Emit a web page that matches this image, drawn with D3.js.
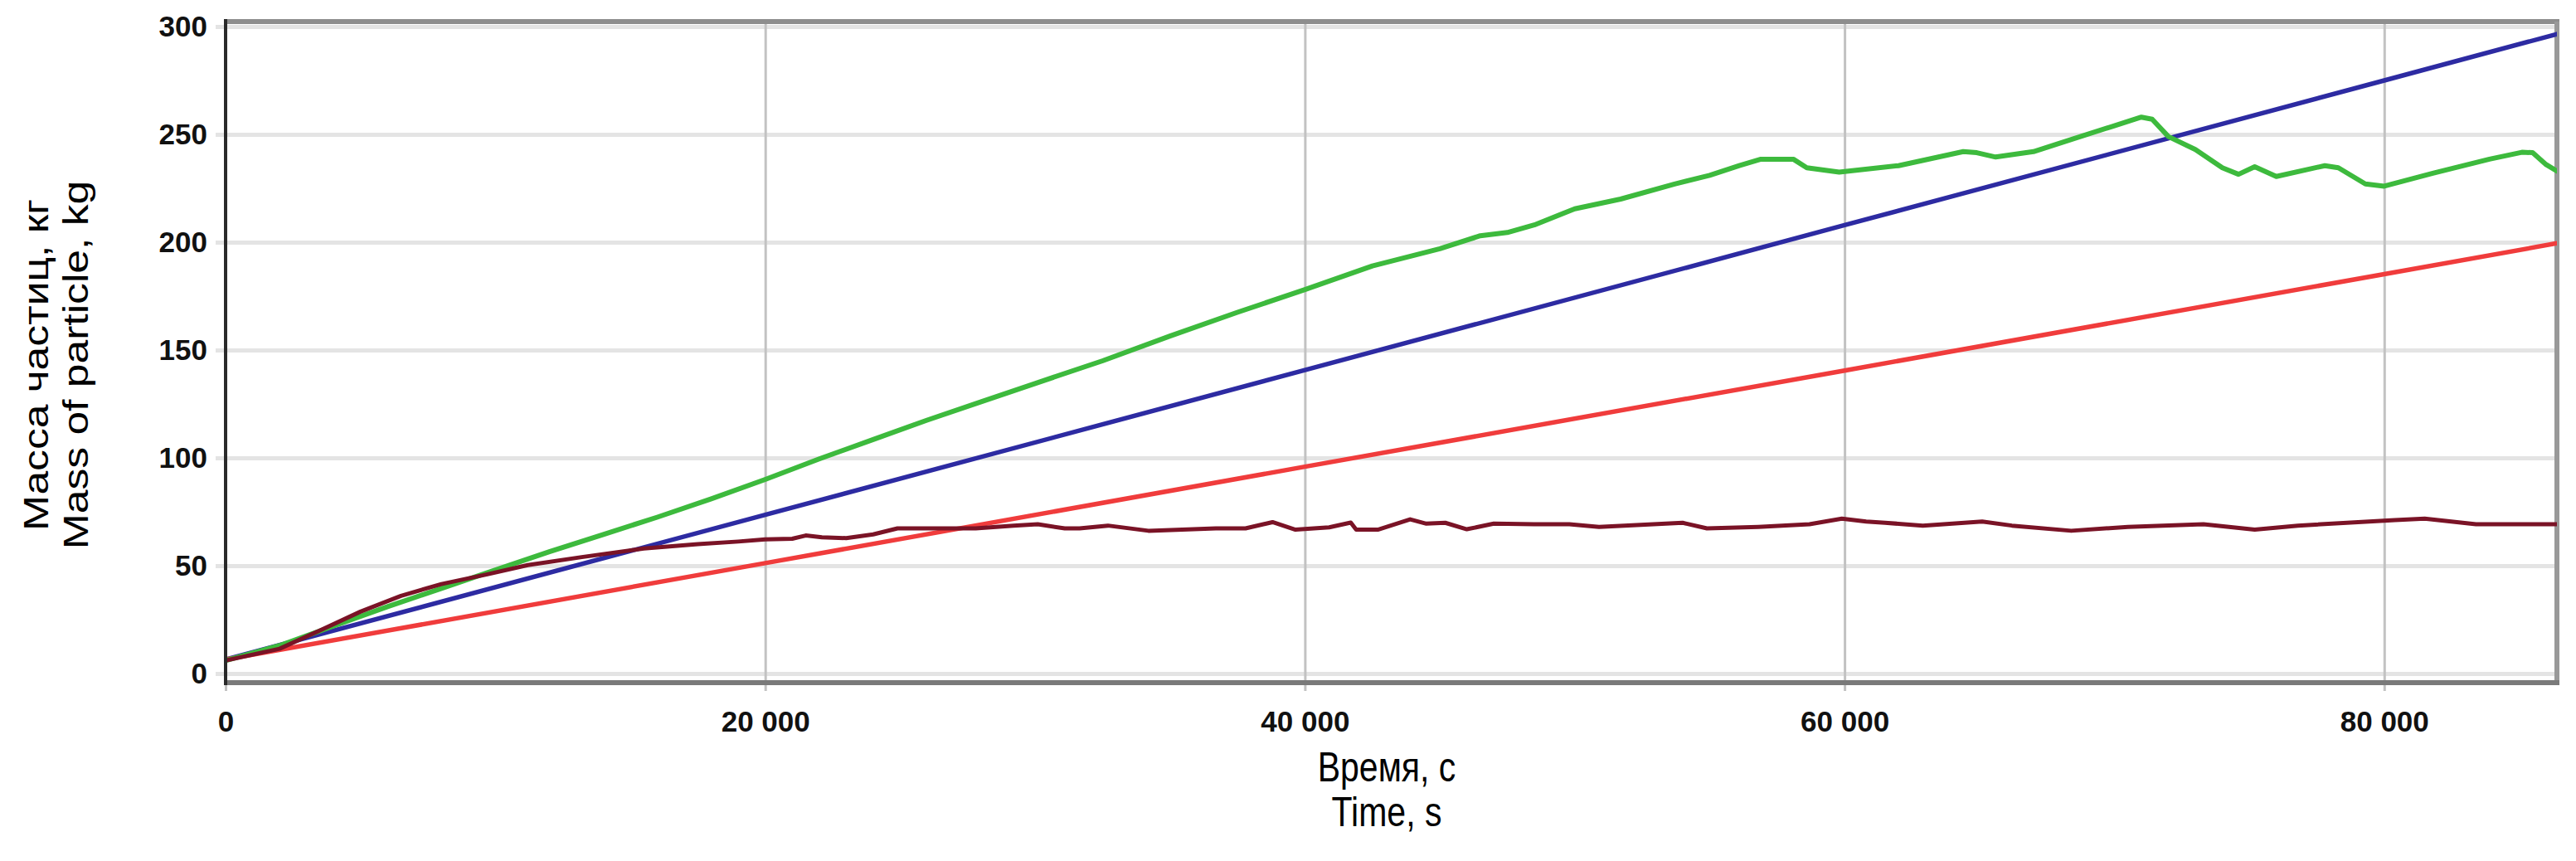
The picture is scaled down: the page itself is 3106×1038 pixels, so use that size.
<!DOCTYPE html>
<html>
<head>
<meta charset="utf-8">
<script src="https://cdn.jsdelivr.net/npm/d3@7"></script>
<style>
  html, body { margin: 0; padding: 0; background: #ffffff; }
  svg { display: block; }
</style>
</head>
<body>
<svg id="chart" width="3106" height="1038"></svg>
<script>
// ---------------- DATA ----------------
const yTicks = [0, 50, 100, 150, 200, 250, 300];
const xTicks = [0, 20000, 40000, 60000, 80000];
const xTickLabels = ["0", "20 000", "40 000", "60 000", "80 000"];

const xTitle = ["Время, с", "Time, s"];
const yTitle = ["Масса частиц, кг", "Mass of particle, kg"];

// blue series (time s, mass kg)
const blueT = [0, 20000, 40000, 60000, 80000, 86400];
const blueV = [6.5, 73.6, 140.7, 207.9, 275.0, 296.5];

// red series
const redT = [0, 20000, 40000, 60000, 80000, 86400];
const redV = [6.5, 51.2, 95.9, 140.5, 185.2, 199.5];

// green series
const greenT = [0, 2000, 4000, 6000, 8000, 10000, 12000, 14000, 16000, 18000, 20000,
  22000, 24000, 26000, 28000, 30000, 32500, 35000, 37500, 40000, 42500, 45000,
  46500, 47500, 48500, 50000, 51700, 53700, 55000, 56100, 56900, 58100, 58600,
  59800, 62000, 64400, 64900, 65600, 67000, 68500, 70000, 71000, 71400, 72000,
  73000, 74000, 74600, 75200, 76000, 77800, 78300, 79300, 80000, 81800, 83900,
  85100, 85500, 86000, 86400];
const greenV = [6, 13, 22, 31, 39.5, 48, 56.5, 64.5, 72.5, 81, 90,
  99.5, 108.5, 117.5, 126, 134.5, 145, 156.5, 167.5, 178, 189, 197,
  203, 204.5, 208, 215.5, 220, 227, 231, 235.5, 238.5, 238.5, 234.5,
  232.5, 235.5, 242, 241.5, 239.5, 242, 248, 254, 258, 257, 249,
  243, 234.5, 231.5, 235, 230.5, 235.5, 234.5, 227, 226, 232, 238.5,
  241.7, 241.5, 236, 233];

// dark red series
const maroonT = [0, 2000, 3500, 5000, 6500, 8000, 9700, 11200, 13200, 15500, 17500,
  19000, 20000, 21000, 21500, 22100, 23000, 24000, 24900, 26400, 27800, 29200,
  30100, 31100, 31650, 32700, 34200, 36700, 37800, 38800, 39650, 40900, 41700,
  41900, 42700, 43900, 44500, 45200, 46000, 47000, 48500, 49800, 50900, 54000,
  54900, 56800, 58700, 59900, 60800, 61500, 62900, 65100, 66200, 68400, 70500,
  73300, 75200, 76800, 80400, 81500, 83400, 86400];
const maroonV = [6, 11.5, 20, 28.7, 36, 41.5, 46, 50.3, 54, 58, 60,
  61.2, 62.2, 62.5, 64, 63.2, 62.8, 64.5, 67.3, 67.3, 67.3, 68.6,
  69.2, 67.3, 67.3, 68.6, 66.2, 67.3, 67.3, 70.2, 66.7, 67.8, 70,
  66.7, 66.7, 71.5, 69.5, 69.9, 66.9, 69.5, 69.2, 69.2, 68, 69.9,
  67.3, 68, 69.2, 71.8, 70.5, 69.9, 68.6, 70.5, 68.6, 66.2, 68,
  69.2, 66.7, 68.6, 71.2, 71.8, 69.2, 69.2];

// ---------------- LAYOUT ----------------
(function () {
const svg = d3.select("#chart");
const W = 3106, H = 1038;
const pL = 272, pR = 3083, pT = 26, pB = 823;
const FONT = "'Liberation Sans', Arial, sans-serif";

const x = d3.scaleLinear().domain([0, 86400]).range([pL, pR]);
const y = d3.scaleLinear().domain([0, 300]).range([812, 32]);

svg.append("rect").attr("width", W).attr("height", H).attr("fill", "#ffffff");

// horizontal gridlines via y axis
const yAxis = d3.axisLeft(y)
  .tickValues(yTicks)
  .tickSize(-(pR - 260))
  .tickPadding(10)
  .tickFormat(d => String(d));
const gy = svg.append("g").attr("transform", "translate(260,0)").call(yAxis);
gy.select(".domain").remove();
gy.selectAll(".tick line").attr("stroke", "#e4e4e4").attr("stroke-width", 5);
gy.selectAll(".tick text")
  .attr("font-family", FONT)
  .attr("font-weight", "bold")
  .attr("font-size", 35)
  .attr("fill", "#111");

// vertical gridlines via x axis
const xAxis = d3.axisBottom(x)
  .tickValues(xTicks)
  .tickSize(-(833 - pT))
  .tickPadding(24)
  .tickFormat((d, i) => xTickLabels[i]);
const gx = svg.append("g").attr("transform", "translate(0,833)").call(xAxis);
gx.select(".domain").remove();
gx.selectAll(".tick line").attr("stroke", "#c2c2c2").attr("stroke-width", 3);
gx.selectAll(".tick text")
  .attr("font-family", FONT)
  .attr("font-weight", "bold")
  .attr("font-size", 35)
  .attr("fill", "#111");

// frame
svg.append("line").attr("x1", pL).attr("x2", pR + 3).attr("y1", pT).attr("y2", pT)
  .attr("stroke", "#8e8e8e").attr("stroke-width", 6);
svg.append("line").attr("x1", pR).attr("x2", pR).attr("y1", pT).attr("y2", pB)
  .attr("stroke", "#999999").attr("stroke-width", 6);
svg.append("line").attr("x1", pL).attr("x2", pR + 3).attr("y1", pB).attr("y2", pB)
  .attr("stroke", "#7a7a7a").attr("stroke-width", 6);

// clip for series
svg.append("clipPath").attr("id", "clip")
  .append("rect").attr("x", pL).attr("y", pT).attr("width", pR - pL).attr("height", pB - pT);

const line = d3.line().x(d => x(d[0])).y(d => y(d[1]));
const zip = (ts, vs) => ts.map((t, i) => [t, vs[i]]);

const series = [
  { data: zip(blueT, blueV), color: "#2d2ba2", width: 5.5 },
  { data: zip(redT, redV), color: "#f03c3c", width: 5.5 },
  { data: zip(greenT, greenV), color: "#3dba3d", width: 6 },
  { data: zip(maroonT, maroonV), color: "#7a1326", width: 5 }
];

const gs = svg.append("g").attr("clip-path", "url(#clip)");
series.forEach(s => {
  gs.append("path")
    .datum(s.data)
    .attr("d", line)
    .attr("fill", "none")
    .attr("stroke", s.color)
    .attr("stroke-width", s.width)
    .attr("stroke-linejoin", "round")
    .attr("stroke-linecap", "round");
});

// left axis line on top
svg.append("line").attr("x1", pL).attr("x2", pL).attr("y1", pT - 3).attr("y2", pB + 3)
  .attr("stroke", "#2a2a2a").attr("stroke-width", 4);

// x axis titles (slightly tall lettering as in the reference)
[[xTitle[0], 942], [xTitle[1], 996]].forEach(([txt, base]) => {
  svg.append("text")
    .attr("transform", `translate(1672,${base}) scale(1,1.2)`)
    .attr("text-anchor", "middle")
    .attr("font-family", FONT)
    .attr("font-size", 41)
    .attr("fill", "#000")
    .text(txt);
});

// y axis title (rotated, elongated along reading direction)
const yg = svg.append("g").attr("transform", "translate(0,440) rotate(-90) scale(1.2,1)");
[[yTitle[0], 58], [yTitle[1], 106]].forEach(([txt, base]) => {
  yg.append("text")
    .attr("x", 0).attr("y", base)
    .attr("text-anchor", "middle")
    .attr("font-family", FONT)
    .attr("font-size", 43)
    .attr("fill", "#000")
    .text(txt);
});
})();
</script>
</body>
</html>
